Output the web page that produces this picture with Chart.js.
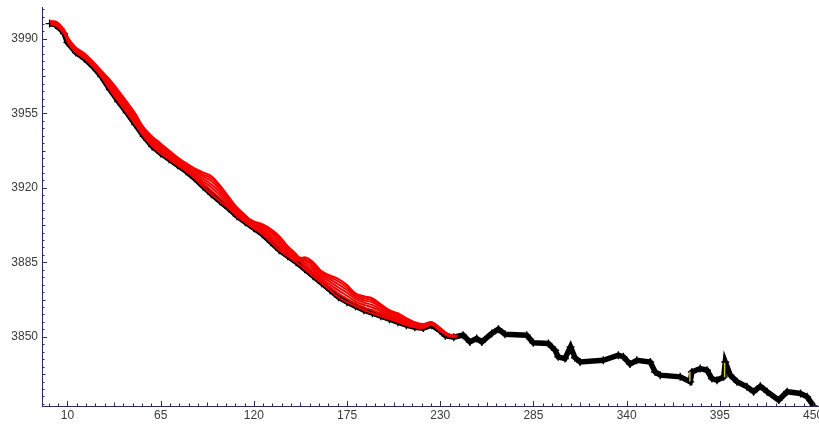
<!DOCTYPE html>
<html><head><meta charset="utf-8">
<script src="https://cdn.jsdelivr.net/npm/chart.js@4.4.0/dist/chart.umd.min.js"></script>
<style>html,body{margin:0;padding:0;background:#fff;overflow:hidden;}#wrap{width:819px;height:425px;position:relative;}canvas{display:block;}</style>
</head><body><div id="wrap"><canvas id="c"></canvas></div>
<script>
const xMajorTicks = [10, 65, 120, 175, 230, 285, 340, 395, 450];
const yMajorTicks = [3850, 3885, 3920, 3955, 3990];

const blackX = [-0.5, 3, 6, 8, 10, 15, 20, 25, 30, 35, 40, 45, 50, 55, 60, 65, 70, 75, 80, 85, 90, 95, 100, 105, 110, 115, 120, 125, 130, 135, 140, 145, 150, 155, 160, 165, 170, 175, 180, 185, 190, 195, 200, 205, 210, 215, 220, 225, 230, 233, 238, 243.5, 247.5, 251.5, 254.5, 260.4, 264.3, 268.2, 281.0, 284.9, 293.8, 297.8, 299.6, 303.6, 306.9, 309.5, 312.5, 326.2, 335.1, 338.1, 342.0, 346.0, 353.9, 356.8, 359.8, 371.6, 377.5, 378.5, 383.4, 387.4, 390.3, 393.3, 397.3, 398.2, 401.2, 405.1, 411.0, 414.9, 418.9, 422.9, 429.7, 434.7, 442.6, 446.5, 450.4];
const blackY = [3997.2, 3996.6, 3994.5, 3992.5, 3988.3, 3983.6, 3980.8, 3977.0, 3972.3, 3966.2, 3960.6, 3955.4, 3949.8, 3944.2, 3939.5, 3936.2, 3933.4, 3930.6, 3927.8, 3924.5, 3920.7, 3917.0, 3913.7, 3910.4, 3906.7, 3903.8, 3901.0, 3898.2, 3894.5, 3890.7, 3887.9, 3885.1, 3881.8, 3878.5, 3875.2, 3871.9, 3868.6, 3866.3, 3864.4, 3862.5, 3861.1, 3859.7, 3858.3, 3856.9, 3855.5, 3854.5, 3854.1, 3855.5, 3852.7, 3850.5, 3849.8, 3850.8, 3847.6, 3849.2, 3847.6, 3851.6, 3853.6, 3851.2, 3850.8, 3847.2, 3846.9, 3843.7, 3840.6, 3839.8, 3845.3, 3840.2, 3838.2, 3839.0, 3841.4, 3840.6, 3837.2, 3839.0, 3838.2, 3833.5, 3832.0, 3831.2, 3828.9, 3833.5, 3835.1, 3834.3, 3830.4, 3829.6, 3831.2, 3838.2, 3832.0, 3828.9, 3826.5, 3824.2, 3826.8, 3824.2, 3820.3, 3824.2, 3823.4, 3821.8, 3817.5];

const redX = [0, 4, 8, 11, 15, 20, 25, 30, 35, 40, 45, 50, 55, 60, 65, 70, 75, 80, 85, 90, 95, 100, 105, 110, 115, 120, 125, 130, 135, 140, 145, 150, 155, 160, 165, 170, 175, 180, 185, 190, 195, 200, 205, 210, 215, 220, 225, 230, 235, 240];
const red1 = [3997.0, 3995.9, 3992.5, 3987.4, 3983.6, 3980.8, 3977.0, 3972.3, 3966.2, 3960.6, 3955.4, 3949.8, 3944.2, 3939.5, 3936.2, 3933.4, 3930.6, 3927.8, 3924.5, 3920.7, 3917.0, 3913.7, 3910.4, 3906.7, 3903.8, 3901.0, 3898.2, 3894.5, 3890.7, 3887.9, 3885.1, 3881.8, 3878.5, 3875.2, 3871.9, 3868.6, 3866.3, 3864.4, 3862.5, 3861.1, 3859.7, 3858.3, 3856.9, 3855.5, 3854.5, 3854.1, 3855.5, 3852.7, 3850.3, 3850.0];
const red2 = [3997.3, 3996.3, 3992.9, 3987.9, 3984.1, 3981.3, 3977.5, 3972.9, 3967.1, 3961.6, 3956.4, 3950.8, 3945.0, 3940.4, 3937.1, 3934.2, 3931.4, 3928.6, 3925.4, 3922.0, 3918.7, 3915.2, 3911.5, 3907.5, 3904.5, 3902.8, 3900.8, 3897.9, 3894.3, 3890.5, 3887.2, 3885.9, 3883.2, 3879.3, 3877.0, 3874.7, 3872.0, 3868.8, 3867.2, 3866.2, 3863.8, 3861.3, 3859.9, 3857.9, 3856.2, 3855.5, 3856.5, 3853.7, 3851.0, 3850.3];
const red3 = [3997.5, 3996.6, 3993.2, 3988.3, 3984.5, 3981.7, 3977.9, 3973.4, 3968.0, 3962.6, 3957.4, 3951.8, 3945.8, 3941.3, 3938.0, 3935.0, 3932.0, 3929.2, 3926.3, 3923.2, 3920.2, 3916.6, 3912.5, 3908.3, 3905.1, 3901.7, 3899.1, 3895.7, 3892.0, 3888.8, 3885.9, 3887.4, 3885.1, 3880.8, 3878.9, 3877.1, 3874.3, 3870.5, 3869.1, 3868.1, 3865.3, 3862.5, 3861.1, 3858.8, 3856.9, 3856.0, 3856.9, 3854.1, 3851.2, 3850.5];
const red4 = [3997.8, 3996.9, 3993.5, 3988.7, 3984.9, 3982.1, 3978.3, 3973.9, 3968.8, 3963.4, 3958.2, 3952.6, 3946.5, 3942.1, 3938.8, 3935.7, 3932.7, 3929.9, 3927.1, 3924.3, 3921.6, 3917.8, 3913.5, 3909.0, 3905.6, 3903.9, 3902.3, 3899.8, 3896.4, 3892.0, 3888.4, 3882.9, 3879.8, 3876.3, 3873.3, 3870.3, 3867.9, 3865.6, 3863.8, 3862.5, 3860.8, 3859.1, 3857.7, 3856.2, 3855.0, 3854.5, 3855.8, 3853.0, 3850.5, 3850.1];
const red5 = [3998.0, 3997.3, 3993.9, 3989.1, 3985.3, 3982.5, 3978.7, 3974.3, 3969.6, 3964.3, 3959.1, 3953.5, 3947.2, 3942.9, 3939.6, 3936.4, 3933.3, 3930.5, 3927.9, 3925.4, 3923.1, 3919.1, 3914.5, 3909.7, 3906.2, 3902.3, 3900.0, 3896.8, 3893.2, 3889.7, 3886.5, 3884.9, 3882.1, 3878.3, 3875.8, 3873.2, 3870.7, 3867.8, 3866.1, 3865.0, 3862.8, 3860.6, 3859.2, 3857.3, 3855.8, 3855.1, 3856.3, 3853.5, 3850.8, 3850.3];
const red6 = [3998.2, 3997.5, 3994.1, 3989.4, 3985.6, 3982.8, 3979.0, 3974.8, 3970.3, 3965.1, 3959.9, 3954.3, 3947.9, 3943.6, 3940.3, 3937.1, 3933.9, 3931.1, 3928.6, 3926.4, 3924.4, 3920.2, 3915.3, 3910.4, 3906.7, 3904.3, 3902.9, 3900.6, 3897.3, 3892.6, 3888.9, 3883.9, 3881.0, 3877.3, 3874.6, 3871.8, 3869.3, 3866.7, 3865.0, 3863.8, 3861.8, 3859.9, 3858.5, 3856.8, 3855.4, 3854.8, 3856.0, 3853.2, 3850.7, 3850.2];
const red7 = [3998.4, 3997.8, 3994.4, 3989.8, 3986.0, 3983.2, 3979.4, 3975.1, 3970.9, 3965.8, 3960.6, 3955.0, 3948.4, 3944.2, 3940.9, 3937.6, 3934.4, 3931.6, 3929.2, 3927.3, 3925.5, 3921.2, 3916.0, 3910.9, 3907.1, 3903.4, 3901.6, 3898.9, 3895.4, 3891.3, 3887.8, 3886.7, 3884.2, 3880.1, 3878.0, 3876.0, 3873.2, 3869.7, 3868.2, 3867.2, 3864.6, 3862.0, 3860.6, 3858.4, 3856.5, 3855.7, 3856.7, 3853.9, 3851.1, 3850.4];

const yellowX = [377.3, 377.3, 387, 397.8, 397.8];
const yellowY = [3829.0, 3833.6, null, 3831.0, 3837.8];

const AXIS = '#2a2a5c';
const LABEL = '#3a3a3a';
const X_MIN = -5, X_MAX = 453.5, Y_MIN = 3817.5, Y_MAX = 4005;

function pts(xs, ys) { return xs.map((x, i) => ({ x: x, y: ys[i] })); }

function buildTicks(majors, sub, min, max) {
  const step = (majors[1] - majors[0]) / sub;
  const first = majors[0];
  const out = [];
  const k0 = Math.ceil((min - first) / step - 1e-9), k1 = Math.floor((max - first) / step + 1e-9);
  for (let k = k0; k <= k1; k++) {
    const m = ((k % sub) + sub) % sub;
    out.push({ value: first + k * step, level: m === 0 ? 2 : (m === sub / 2 ? 1 : 0) });
  }
  return out;
}
function labelFor(majors, v) {
  const m = majors.find(t => Math.abs(t - v) < 1e-6);
  return m === undefined ? '' : String(m);
}

const tickMarks = {
  id: 'tickMarks',
  afterDraw(chart) {
    const ctx = chart.ctx, xs = chart.scales.x, ys = chart.scales.y, ca = chart.chartArea;
    const len = [2.5, 3.5, 5];
    ctx.save();
    ctx.strokeStyle = AXIS; ctx.lineWidth = 1;
    ctx.beginPath();
    xs.ticks.forEach(t => {
      const px = Math.round(xs.getPixelForValue(t.value)) + 0.5;
      ctx.moveTo(px, ca.bottom); ctx.lineTo(px, ca.bottom - len[t.level]);
    });
    ys.ticks.forEach(t => {
      const py = Math.round(ys.getPixelForValue(t.value)) + 0.5;
      ctx.moveTo(ca.left, py); ctx.lineTo(ca.left + len[t.level], py);
    });
    ctx.stroke();
    ctx.restore();
  }
};

const redSeries = [red1, red2, red3, red4, red5, red6, red7];
const datasets = [];
redSeries.forEach((arr, i) => {
  datasets.push({
    data: pts(redX, arr), borderColor: 'rgb(245,0,0)', borderWidth: 2,
    pointRadius: 0, tension: 0.4, order: 1, fill: false
  });
});
datasets.push({
  data: pts(yellowX, yellowY), borderColor: '#c9c43a', borderWidth: 1.5,
  pointRadius: 0, tension: 0, order: 2, spanGaps: false, fill: false
});
datasets.push({
  data: pts(blackX, blackY), borderColor: '#000', borderWidth: 5.5,
  pointRadius: 4, pointStyle: 'cross', pointBorderColor: '#000', pointBorderWidth: 1.4,
  tension: 0, order: 3, fill: false
});

new Chart(document.getElementById('c'), {
  type: 'line',
  data: { datasets: datasets },
  plugins: [tickMarks],
  options: {
    responsive: true, maintainAspectRatio: false, animation: false,
    layout: { autoPadding: false, padding: { top: 7, right: 0, bottom: 0, left: 0 } },
    plugins: { legend: { display: false }, tooltip: { enabled: false } },
    scales: {
      x: {
        type: 'linear', min: X_MIN, max: X_MAX,
        grid: { display: false, drawTicks: false },
        border: { display: true, color: AXIS, width: 1 },
        afterBuildTicks: s => { s.ticks = buildTicks(xMajorTicks, 10, X_MIN, X_MAX); },
        afterFit: s => { s.height = 19; s.paddingLeft = 0; s.paddingRight = 0; },
        ticks: {
          autoSkip: false, maxRotation: 0, minRotation: 0, padding: 2,
          color: LABEL, font: { family: "'Liberation Sans', Arial, sans-serif", size: 12 },
          callback: v => labelFor(xMajorTicks, v)
        }
      },
      y: {
        type: 'linear', min: Y_MIN, max: Y_MAX,
        grid: { display: false, drawTicks: false },
        border: { display: true, color: AXIS, width: 1 },
        afterBuildTicks: s => { s.ticks = buildTicks(yMajorTicks, 10, Y_MIN, Y_MAX); },
        afterFit: s => { s.width = 42; s.paddingTop = 0; s.paddingBottom = 0; },
        ticks: {
          autoSkip: false, padding: 4,
          color: LABEL, font: { family: "'Liberation Sans', Arial, sans-serif", size: 12 },
          callback: v => labelFor(yMajorTicks, v)
        }
      }
    }
  }
});
</script>
</body></html>
